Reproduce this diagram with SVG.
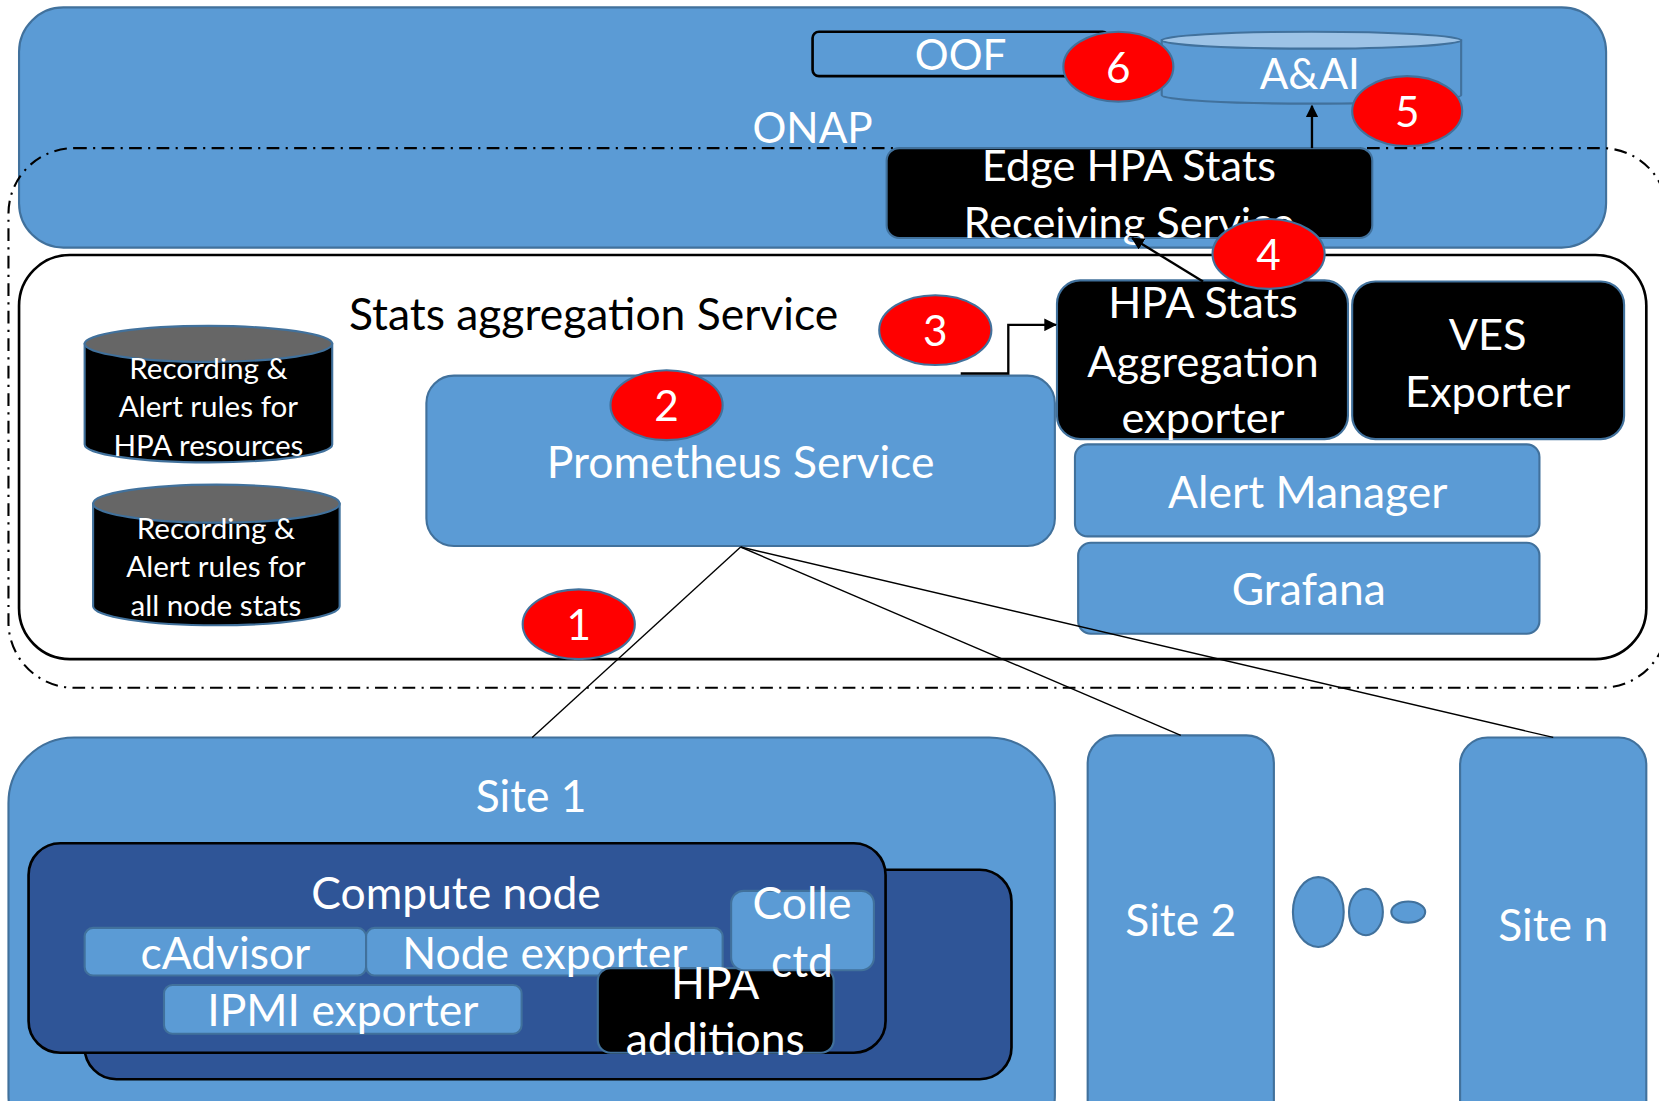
<svg xmlns="http://www.w3.org/2000/svg" width="1659" height="1101" viewBox="0 0 1659 1101">
<style>
text{font-family:Lato,"Liberation Sans",sans-serif;fill:#fff;text-anchor:middle}
.blue{fill:#5B9BD5;stroke:#41719C;stroke-width:2}
.blk{fill:#000;stroke:#41719C;stroke-width:2}
.dark{fill:#2F5597;stroke:#000;stroke-width:2.5}
.red{fill:#FF0000;stroke:#41719C;stroke-width:2}
.num{font-size:40px}
.t42{font-size:42px}
.t41{font-size:41px}
.t40{font-size:40px}
.t28{font-size:28px}
.ln{stroke:#000;stroke-width:1.3;fill:none}
.arr{stroke:#000;stroke-width:2.2;fill:none}
</style>
<defs>
<marker id="ah" markerWidth="12" markerHeight="12" refX="11" refY="6" orient="auto" markerUnits="userSpaceOnUse">
<path d="M0,0 L12,6 L0,12 Z" fill="#000"/>
</marker>
</defs>
<rect width="1659" height="1101" fill="#fff"/>
<g transform="scale(1.05804)">
<g id="onap">
<rect class="blue" x="18" y="7" width="1500" height="227" rx="42"/>
<text class="t40" x="768" y="135">ONAP</text>
</g>
<g id="oof">
<rect x="768" y="30" width="280" height="42" rx="6" fill="#5B9BD5" stroke="#000" stroke-width="2.5"/>
<text class="t40" x="908" y="66">OOF</text>
</g>
<g id="aai">
<path class="blue" d="M1098,38 L1098,90 A141.5,8 0 0 0 1381,90 L1381,38 Z"/>
<ellipse cx="1239.5" cy="38" rx="141.5" ry="8" fill="#9DC3E6" stroke="#41719C" stroke-width="2"/>
<text class="t40" x="1238" y="84">A&amp;AI</text>
</g>
<g id="boundary">
<rect x="8" y="140" width="1568" height="510" rx="62" fill="none" stroke="#000" stroke-width="2" stroke-dasharray="12,6,2,6"/>
</g>
<g id="stats">
<rect x="18" y="241" width="1538" height="382" rx="48" fill="#fff" stroke="#000" stroke-width="2.5"/>
<text x="561" y="312" style="fill:#000;font-size:42px">Stats aggregation Service</text>
</g>
<g id="edge">
<rect class="blk" x="838" y="140" width="459" height="85" rx="12"/>
<text class="t41" x="1067" y="171">Edge HPA Stats</text>
<text class="t41" x="1067" y="225">Receiving Service</text>
</g>
<g id="rules1">
<path class="blk" d="M80,325 L80,420 A117,17 0 0 0 314,420 L314,325 Z"/>
<ellipse cx="197" cy="325" rx="117" ry="17" fill="#666" stroke="#41719C" stroke-width="2"/>
<text class="t28" x="197" y="358">Recording &amp;</text>
<text class="t28" x="197" y="394">Alert rules for</text>
<text class="t28" x="197" y="431">HPA resources</text>
</g>
<g id="rules2">
<path class="blk" d="M88,476 L88,573 A116.5,18 0 0 0 321,573 L321,476 Z"/>
<ellipse cx="204.5" cy="476" rx="116.5" ry="18" fill="#666" stroke="#41719C" stroke-width="2"/>
<text class="t28" x="204" y="509">Recording &amp;</text>
<text class="t28" x="204" y="545">Alert rules for</text>
<text class="t28" x="204" y="582">all node stats</text>
</g>
<g id="prometheus">
<rect class="blue" x="403" y="355" width="594" height="161" rx="26"/>
<text class="t42" x="700" y="452">Prometheus Service</text>
</g>
<g id="hpaexp">
<rect class="blk" x="999" y="265" width="275" height="150" rx="22"/>
<text class="t41" x="1137" y="301">HPA Stats</text>
<text class="t41" x="1137" y="356">Aggregation</text>
<text class="t41" x="1137" y="409">exporter</text>
</g>
<g id="ves">
<rect class="blk" x="1278" y="266" width="257" height="149" rx="22"/>
<text class="t41" x="1406" y="331">VES</text>
<text class="t41" x="1406" y="385">Exporter</text>
</g>
<g id="alertmgr">
<rect class="blue" x="1016" y="420" width="439" height="87" rx="12"/>
<text class="t42" x="1236" y="480">Alert Manager</text>
</g>
<g id="grafana">
<rect class="blue" x="1019" y="513" width="436" height="86" rx="12"/>
<text class="t42" x="1237" y="572">Grafana</text>
</g>
<g id="site1">
<rect class="blue" x="8" y="697" width="989" height="400" rx="62"/>
<text class="t42" x="502" y="767">Site 1</text>
</g>
<g id="computeback">
<rect class="dark" x="80" y="822" width="876" height="198" rx="30"/>
</g>
<g id="compute">
<rect class="dark" x="27" y="797" width="810" height="198" rx="30"/>
<text class="t42" x="431" y="859">Compute node</text>
</g>
<g id="cadvisor">
<rect class="blue" x="80" y="877" width="266" height="45" rx="8"/>
<text class="t42" x="213" y="916">cAdvisor</text>
</g>
<g id="nodeexp">
<rect class="blue" x="346" y="877" width="337" height="45" rx="8"/>
<text class="t42" x="515" y="916">Node exporter</text>
</g>
<g id="ipmi">
<rect class="blue" x="155" y="931" width="338" height="46" rx="8"/>
<text class="t42" x="324" y="970">IPMI exporter</text>
</g>
<g id="hpaadd">
<rect class="blk" x="565" y="915" width="223" height="80" rx="12"/>
<text class="t42" x="676" y="944">HPA</text>
<text class="t42" x="676" y="997">additions</text>
</g>
<g id="collectd">
<rect class="blue" x="691" y="842" width="135" height="75" rx="12"/>
<text class="t42" x="758" y="869">Colle</text>
<text class="t42" x="758" y="923">ctd</text>
</g>
<g id="site2">
<rect class="blue" x="1028" y="695" width="176" height="400" rx="26"/>
<text class="t42" x="1116" y="885">Site 2</text>
</g>
<g id="dots">
<ellipse class="blue" cx="1246" cy="862" rx="24" ry="33"/>
<ellipse class="blue" cx="1291" cy="862" rx="16" ry="22"/>
<ellipse class="blue" cx="1331" cy="862" rx="16" ry="10"/>
</g>
<g id="siten">
<rect class="blue" x="1380" y="697" width="176" height="400" rx="26"/>
<text class="t42" x="1468" y="889">Site n</text>
</g>
<g id="badges">
<ellipse class="red" cx="1057" cy="63" rx="52" ry="33"/>
<text class="num" x="1057" y="78">6</text>
<ellipse class="red" cx="1330" cy="105" rx="52" ry="33"/>
<text class="num" x="1330" y="120">5</text>
<ellipse class="red" cx="1199" cy="240" rx="53" ry="33"/>
<text class="num" x="1199" y="255">4</text>
<ellipse class="red" cx="884" cy="312" rx="53" ry="33"/>
<text class="num" x="884" y="327">3</text>
<ellipse class="red" cx="630" cy="383" rx="53" ry="33"/>
<text class="num" x="630" y="398">2</text>
<ellipse class="red" cx="547" cy="590" rx="53" ry="33"/>
<text class="num" x="547" y="605">1</text>
</g>
<g id="connectors">
<path class="arr" d="M1240,140 L1240,100" marker-end="url(#ah)"/>
<path class="arr" d="M1137,266 L1070,225" marker-end="url(#ah)"/>
<path class="arr" d="M908,353 L953,353 L953,307 L998,307" marker-end="url(#ah)"/>
<path class="ln" d="M700,517 L503,697"/>
<path class="ln" d="M700,517 L1116,695"/>
<path class="ln" d="M700,517 L1468,697"/>
</g>
</g>
</svg>
